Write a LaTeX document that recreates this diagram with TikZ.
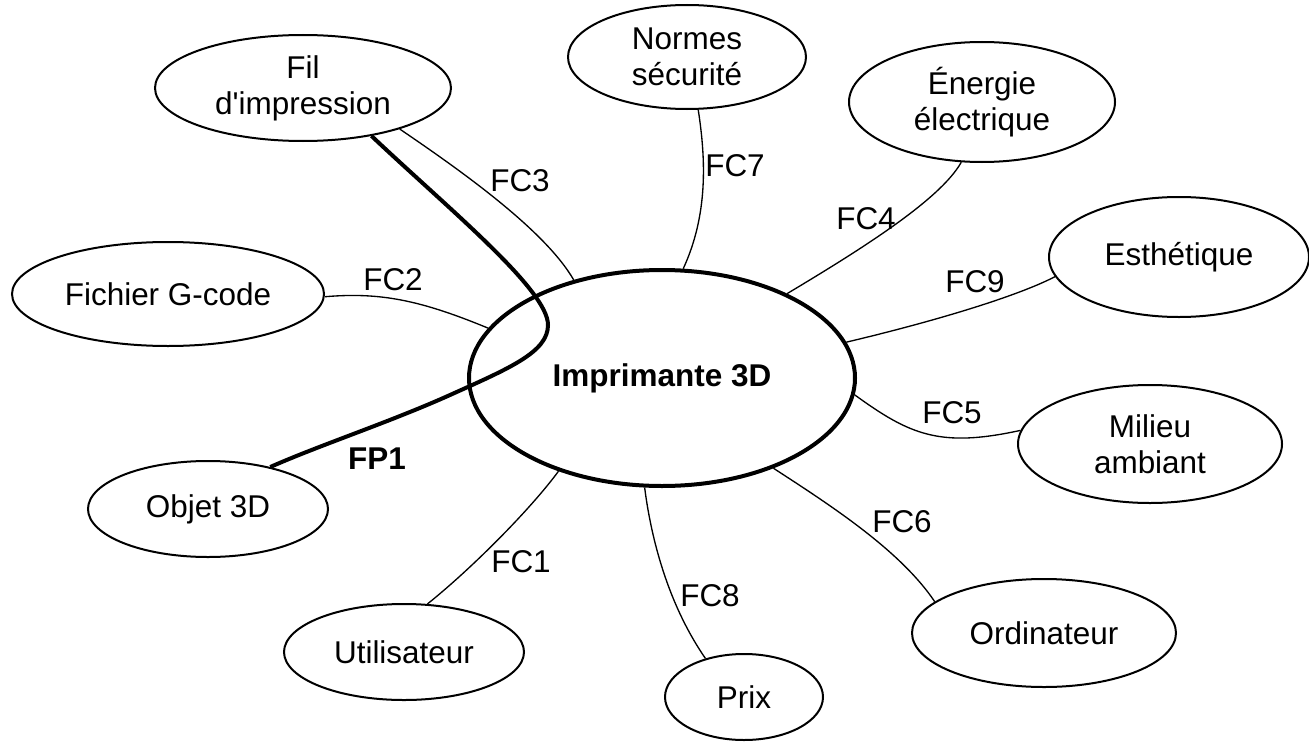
\documentclass[tikz,border=0pt]{standalone}
\usepackage{fontspec}
\setmainfont{Liberation Sans}[Ligatures=TeXOff]
\usetikzlibrary{shapes.geometric}
\begin{document}
\begin{tikzpicture}[x=0.75pt,y=-0.75pt,
  txt/.style={font=\fontsize{23.6}{27}\selectfont},
  box/.style={ellipse,draw,line width=1.5pt,inner sep=0pt,align=center,txt},
  lab/.style={inner sep=0pt,txt},
  con/.style={line width=1pt},
  main/.style={line width=3pt}]
\useasboundingbox (0,0) rectangle (1309,742);
% nodes
\node[box,minimum width=222pt,minimum height=79.5pt] (fil) at (303,88) {Fil\\d'impression};
\node[box,minimum width=178.5pt,minimum height=78pt] (normes) at (687,57) {Normes\\sécurité};
\node[box,minimum width=199.5pt,minimum height=90pt] (energie) at (982,102) {Énergie\\électrique};
\node[box,minimum width=195pt,minimum height=90pt] (esth) at (1179,257) {Esthétique};
\node[box,minimum width=234pt,minimum height=78pt] (fichier) at (168,294) {Fichier G-code};
\node[box,main,minimum width=289.5pt,minimum height=162pt,font=\fontsize{23.6}{27}\selectfont\bfseries] (imp) at (662,378) {Imprimante 3D};
\node[box,minimum width=198pt,minimum height=88.5pt] (milieu) at (1150,444) {Milieu\\ambiant};
\node[box,minimum width=180pt,minimum height=72pt] (objet) at (208,509) {Objet 3D};
\node[box,minimum width=198pt,minimum height=81pt] (ordi) at (1044,633) {Ordinateur};
\node[box,minimum width=180pt,minimum height=72pt] (util) at (404,652) {Utilisateur};
\node[box,minimum width=118.5pt,minimum height=64.5pt] (prix) at (744,697) {Prix};
% connectors
\draw[con] (fil.-23.9) .. controls (460,170) and (545,230) .. (imp.132.9);
\draw[con] (normes.-78.3) .. controls (706,160) and (708,215) .. (imp.79.6);
\draw[con] (energie.-109.3) .. controls (940,200) and (860,250) .. (imp.34.2);
\draw[con] (esth.-171.8) .. controls (1020,295) and (940,320) .. (imp.11.7);
\draw[con] (fichier.-1.5) .. controls (380,292) and (420,300) .. (imp.164.6);
\draw[con] (milieu.174.7) .. controls (940,448) and (910,435) .. (imp.-5);
\draw[con] (ordi.164.5) .. controls (900,550) and (830,505) .. (imp.-39.3);
\draw[con] (prix.135.7) .. controls (665,600) and (650,530) .. (imp.-99.4);
\draw[con] (util.64.9) .. controls (470,570) and (530,510) .. (imp.-138);
\coordinate (loop) at (548,325);
\coordinate (mid) at (450,395);
\draw[main] (fil.-35) .. controls (450,210) and (548,290) .. (loop)
  .. controls (548,352) and (510,368) .. (mid)
  .. controls (390,422) and (320,445) .. (objet.34.5);
% labels
\node[lab] (l3) at (520,181) {FC3};
\node[lab] (l7) at (735,166) {FC7};
\node[lab] (l4) at (866,219) {FC4};
\node[lab] (l2) at (393,280) {FC2};
\node[lab] (l9) at (975,282) {FC9};
\node[lab] (l5) at (952,413) {FC5};
\node[lab,font=\fontsize{23.6}{27}\selectfont\bfseries] (lp1) at (377,459) {FP1};
\node[lab] (l6) at (902,522) {FC6};
\node[lab] (l1) at (521,562) {FC1};
\node[lab] (l8) at (710,596) {FC8};
\end{tikzpicture}
\end{document}
